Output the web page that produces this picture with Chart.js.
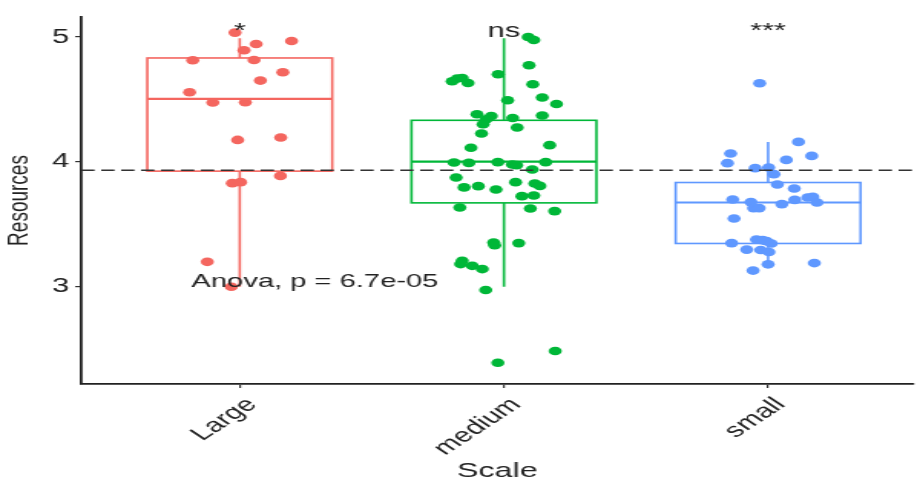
<!DOCTYPE html>
<html>
<head>
<meta charset="utf-8">
<script src="https://cdn.jsdelivr.net/npm/chart.js@4.4.1/dist/chart.umd.min.js"></script>
<style>
  html, body { margin: 0; padding: 0; background: #fff; overflow: hidden; }
  /* plot is drawn 600px wide and stretched to the page width */
  #wrap { width: 600px; height: 479px; transform: scaleX(1.53333); transform-origin: 0 0; }
</style>
</head>
<body>
<div id="wrap"><canvas id="grafico"></canvas></div>
<script>
const categories = ["Large", "medium", "small"];
const colors = ["#F4665F", "#00B738", "#5F98FF"];

// jittered observations (x = group position + jitter)
const largeX = [0.982, 1.016, 1.062, 1.196, 0.822, 1.054, 1.163, 1.078, 0.810, 0.898, 1.021, 0.992, 1.155, 1.154, 0.972, 1.003, 0.877, 0.968];
const largeY = [5.035, 4.894, 4.944, 4.968, 4.814, 4.816, 4.718, 4.651, 4.558, 4.475, 4.478, 4.176, 4.195, 3.888, 3.830, 3.838, 3.200, 3.000];

const mediumX = [2.092, 2.113, 2.095, 1.978, 1.804, 1.823, 1.842, 1.864, 2.109, 2.014, 2.145, 2.199, 1.898, 1.952, 1.933, 2.033, 2.145,
  1.921, 2.050, 1.915, 2.173, 1.875, 1.811, 1.867, 1.977, 2.032, 2.048, 2.158, 2.107, 1.819, 2.044, 1.849, 1.903, 1.970, 2.117, 2.136,
  2.068, 2.113, 1.833, 2.100, 2.192, 1.961, 1.965, 2.056, 1.842, 1.836, 1.880, 1.918, 1.931, 2.194, 1.977];
const mediumY = [5.000, 4.976, 4.774, 4.702, 4.646, 4.667, 4.672, 4.632, 4.622, 4.494, 4.515, 4.464, 4.382, 4.368, 4.342, 4.352, 4.371,
  4.302, 4.275, 4.227, 4.134, 4.113, 3.995, 3.992, 3.998, 3.979, 3.974, 3.998, 3.939, 3.875, 3.838, 3.796, 3.806, 3.779, 3.827, 3.808,
  3.726, 3.731, 3.635, 3.627, 3.606, 3.354, 3.333, 3.350, 3.208, 3.182, 3.168, 3.142, 2.974, 2.486, 2.392];

const smallX = [2.968, 3.115, 2.858, 3.165, 2.846, 3.069, 2.951, 3.002, 3.022, 3.035, 3.099, 2.866, 2.935, 2.945, 2.966, 3.052,
  3.101, 3.150, 3.169, 3.185, 2.871, 2.862, 2.956, 2.979, 2.994, 3.012, 2.919, 2.972, 3.003, 3.000, 3.175, 2.943];
const smallY = [4.630, 4.160, 4.067, 4.048, 3.990, 4.016, 3.950, 3.955, 3.902, 3.819, 3.787, 3.699, 3.678, 3.630, 3.630, 3.662,
  3.696, 3.715, 3.720, 3.675, 3.547, 3.350, 3.379, 3.374, 3.366, 3.347, 3.298, 3.295, 3.279, 3.180, 3.190, 3.130];

// box statistics per group
const boxLow    = [3.00, 3.00, 3.19];
const boxQ1     = [3.926, 3.672, 3.347];
const boxMedian = [4.504, 4.003, 3.675];
const boxQ3     = [4.832, 4.333, 3.835];
const boxHigh   = [4.99, 4.99, 4.16];

const yTicks = [3, 4, 5];
const meanLine = 3.934;
const sigLabels = ["*", "ns", "***"];
const sigY = 5.0;
const anovaLabel = "Anova, p = 6.7e-05";
const anovaPos = [0.817, 3.0];

const FONT = '"Liberation Sans", Arial, sans-serif';

function pts(xs, ys) {
  return xs.map((x, i) => ({ x: x, y: ys[i] }));
}

// boxes, whiskers and medians go under the points
const boxPlot = {
  id: 'boxPlot',
  beforeDatasetsDraw(chart) {
    const { ctx, scales: { x, y } } = chart;
    ctx.save();
    for (let i = 0; i < categories.length; i++) {
      const c = i + 1;
      const x0 = x.getPixelForValue(c - 0.35);
      const x1 = x.getPixelForValue(c + 0.35);
      const xm = x.getPixelForValue(c);
      const q1 = y.getPixelForValue(boxQ1[i]);
      const q3 = y.getPixelForValue(boxQ3[i]);
      ctx.strokeStyle = colors[i];
      ctx.lineWidth = 1.6;
      // whiskers
      ctx.beginPath();
      ctx.moveTo(xm, y.getPixelForValue(boxHigh[i]));
      ctx.lineTo(xm, q3);
      ctx.moveTo(xm, q1);
      ctx.lineTo(xm, y.getPixelForValue(boxLow[i]));
      ctx.stroke();
      // box
      ctx.fillStyle = '#fff';
      ctx.fillRect(x0, q3, x1 - x0, q1 - q3);
      ctx.strokeRect(x0, q3, x1 - x0, q1 - q3);
      // median
      ctx.lineWidth = 2.2;
      ctx.beginPath();
      const m = y.getPixelForValue(boxMedian[i]);
      ctx.moveTo(x0, m);
      ctx.lineTo(x1, m);
      ctx.stroke();
    }
    ctx.restore();
  },
  afterDatasetsDraw(chart) {
    const { ctx, chartArea, scales: { x, y } } = chart;
    ctx.save();
    // dashed reference line
    ctx.strokeStyle = '#333';
    ctx.lineWidth = 1.5;
    ctx.setLineDash([8.7, 4.3]);
    ctx.beginPath();
    const yl = y.getPixelForValue(meanLine);
    ctx.moveTo(chartArea.left, yl);
    ctx.lineTo(chartArea.right, yl);
    ctx.stroke();
    ctx.setLineDash([]);

    // significance labels
    ctx.fillStyle = '#222';
    ctx.textAlign = 'center';
    ctx.textBaseline = 'alphabetic';
    ctx.font = '20px ' + FONT;
    sigLabels.forEach((s, i) => {
      ctx.fillText(s, x.getPixelForValue(i + 1), y.getPixelForValue(sigY));
    });

    // anova result
    ctx.textAlign = 'left';
    ctx.font = '19px ' + FONT;
    ctx.fillText(anovaLabel, x.getPixelForValue(anovaPos[0]), y.getPixelForValue(anovaPos[1]));
    ctx.restore();
  }
};

const ctx = document.getElementById('grafico').getContext('2d');
new Chart(ctx, {
  type: 'scatter',
  data: {
    datasets: [
      { label: categories[0], data: pts(largeX, largeY), backgroundColor: colors[0] },
      { label: categories[1], data: pts(mediumX, mediumY), backgroundColor: colors[1] },
      { label: categories[2], data: pts(smallX, smallY), backgroundColor: colors[2] }
    ]
  },
  options: {
    responsive: true,
    maintainAspectRatio: false,
    animation: false,
    layout: { padding: { top: 17, right: 0, left: 0, bottom: 0 } },
    elements: { point: { radius: 4.3, borderWidth: 0, hoverRadius: 4.3 } },
    plugins: { legend: { display: false }, tooltip: { enabled: false } },
    scales: {
      x: {
        type: 'linear',
        min: 0.4,
        max: 3.55,
        afterBuildTicks: (scale) => { scale.ticks = categories.map((c, i) => ({ value: i + 1 })); },
        afterFit: (scale) => { scale.height = 95; },
        ticks: {
          autoSkip: false,
          minRotation: 45,
          maxRotation: 45,
          padding: 5,
          labelOffset: 8,
          color: '#222',
          font: { family: FONT, size: 20 },
          callback: (v) => categories[v - 1]
        },
        grid: { drawOnChartArea: false, drawTicks: true, tickLength: 4, color: '#333', lineWidth: 1.2 },
        border: { display: true, color: '#222', width: 1.8 },
        title: {
          display: true,
          text: 'Scale',
          color: '#222',
          font: { family: FONT, size: 21, lineHeight: 0.72 },
          padding: 0
        }
      },
      y: {
        min: 2.222,
        max: 5.16,
        afterBuildTicks: (scale) => { scale.ticks = yTicks.map(v => ({ value: v })); },
        afterFit: (scale) => { scale.width = 53; },
        ticks: {
          padding: 4,
          color: '#222',
          font: { family: FONT, size: 20 }
        },
        grid: { drawOnChartArea: false, drawTicks: true, tickLength: 4, color: '#333', lineWidth: 1.2 },
        border: { display: true, color: '#222', width: 1.8 },
        title: {
          display: true,
          text: 'Resources',
          color: '#222',
          font: { family: FONT, size: 19, lineHeight: 1 },
          padding: { top: 3, bottom: 0 }
        }
      }
    }
  },
  plugins: [boxPlot]
});
</script>
</body>
</html>
